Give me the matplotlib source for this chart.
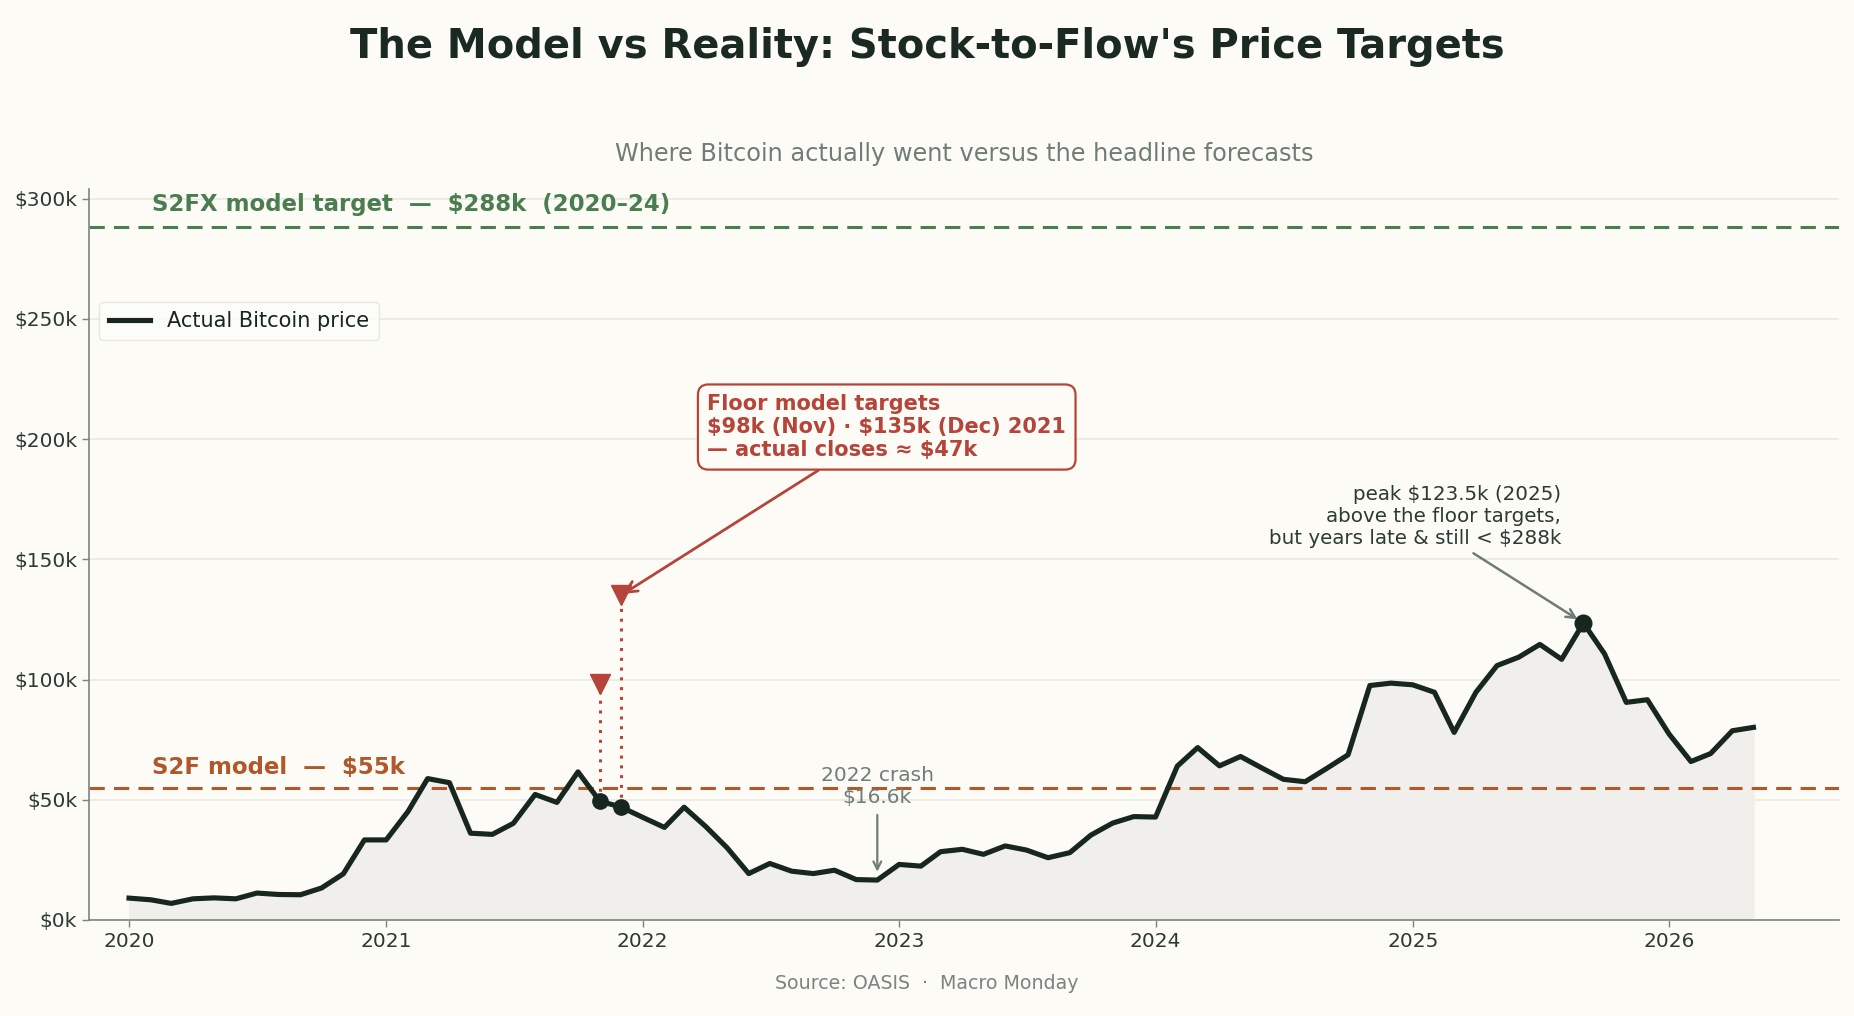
import matplotlib
matplotlib.use("Agg")
import matplotlib.pyplot as plt
import matplotlib.dates as mdates
import matplotlib.ticker as mticker
import pandas as pd

# ---------------- data ----------------
start_month = "2020-01-01"
price_k = [
    9.1, 8.4, 6.9, 8.8, 9.2, 8.8, 11.2, 10.6, 10.5, 13.3, 19.2, 33.3,      # 2020
    33.3, 45.1, 58.8, 57.1, 36.1, 35.6, 40.2, 52.2, 48.9, 61.6, 49.4, 47.0, # 2021
    42.7, 38.5, 46.9, 38.8, 30.1, 19.3, 23.5, 20.3, 19.3, 20.7, 16.8, 16.6, # 2022
    23.1, 22.4, 28.4, 29.4, 27.3, 30.8, 29.1, 25.9, 28.0, 35.3, 40.3, 43.0, # 2023
    42.8, 64.0, 71.7, 64.1, 68.0, 63.1, 58.5, 57.5, 63.1, 68.7, 97.5, 98.5, # 2024
    97.8, 94.7, 78.0, 94.7, 105.8, 109.3, 114.6, 108.4, 123.5, 110.7, 90.5, 91.6, # 2025
    77.3, 65.9, 69.2, 78.7, 80.1,                                           # 2026
]
dates = pd.date_range(start_month, periods=len(price_k), freq="MS")
prices = [p * 1000 for p in price_k]

s2fx_target = 288000
s2f_target = 55000
floor_months = ["2021-11-01", "2021-12-01"]
floor_targets = [98000, 135000]
peak_month = "2025-09-01"
peak_value = 123500
crash_month = "2022-12-01"
crash_value = 16600
year_ticks = [2020, 2021, 2022, 2023, 2024, 2025, 2026]
y_ticks = [0, 50000, 100000, 150000, 200000, 250000, 300000]

# ---------------- style ----------------
BG = "#fcfbf6"
DARK = "#17261f"
GREEN = "#4a7d50"
ORANGE = "#b0582a"
RED = "#b5443a"
GRAY = "#6f7d76"
FILL = "#f0efeb"

plt.rcParams["font.family"] = ["DejaVu Sans"]
plt.rcParams["text.parse_math"] = False

fig = plt.figure(figsize=(18.54, 10.16), dpi=100, facecolor=BG)
ax = fig.add_axes([0.048, 0.0945, 0.944, 0.7195], facecolor=BG)

price_series = pd.Series(prices, index=dates)

ax.fill_between(dates, prices, 0, color=FILL, zorder=1)
ax.plot(dates, prices, color=DARK, lw=3.7, zorder=4, label="Actual Bitcoin price")

# horizontal model lines
ax.axhline(s2fx_target, color=GREEN, ls=(0, (5, 3)), lw=2.2, zorder=2)
ax.axhline(s2f_target, color=ORANGE, ls=(0, (5, 3)), lw=2.2, zorder=2)
label_x = pd.Timestamp("2020-02-03")
ax.annotate(f"S2FX model target  \u2014  ${s2fx_target//1000}k  (2020\u201324)",
            xy=(label_x, s2fx_target), xytext=(0, 8), textcoords="offset points",
            ha="left", va="bottom", color=GREEN, fontsize=16.5, fontweight="bold")
ax.annotate(f"S2F model  \u2014  ${s2f_target//1000}k",
            xy=(label_x, s2f_target), xytext=(0, 6), textcoords="offset points",
            ha="left", va="bottom", color=ORANGE, fontsize=16.5, fontweight="bold")

# floor model targets
for m, t in zip(floor_months, floor_targets):
    d = pd.Timestamp(m)
    actual = price_series[d]
    ax.plot([d, d], [actual, t], color=RED, ls=(0, (1, 2.2)), lw=2.2, zorder=3)
    ax.plot([d], [t], marker="v", color=RED, markersize=15, zorder=6, ls="none")
    ax.plot([d], [actual], marker="o", color=DARK, markersize=11, zorder=6, ls="none")

ax.annotate("Floor model targets\n$98k (Nov) \u00b7 $135k (Dec) 2021\n\u2014 actual closes \u2248 $47k",
            xy=(pd.Timestamp(floor_months[1]), floor_targets[1]),
            xytext=(pd.Timestamp("2022-04-03"), 205000),
            ha="left", va="center", color=RED, fontsize=15, fontweight="bold",
            linespacing=1.2,
            bbox=dict(boxstyle="round,pad=0.45,rounding_size=0.5", fc=BG, ec=RED, lw=1.6),
            arrowprops=dict(arrowstyle="->", color=RED, lw=2.0, shrinkA=0, shrinkB=2,
                            mutation_scale=20),
            zorder=7)

# peak
pk = pd.Timestamp(peak_month)
ax.plot([pk], [peak_value], marker="o", color=DARK, markersize=12, zorder=6, ls="none")
ax.annotate("peak $123.5k (2025)\nabove the floor targets,\nbut years late & still < $288k",
            xy=(pk, peak_value), xytext=(pd.Timestamp("2025-07-31"), 168000),
            ha="right", va="center", color="#2b3a33", fontsize=14.3, linespacing=1.2,
            arrowprops=dict(arrowstyle="->", color=GRAY, lw=1.8, shrinkA=4, shrinkB=5,
                            mutation_scale=16),
            zorder=7)

# crash
cr = pd.Timestamp(crash_month)
ax.annotate(f"2022 crash\n${crash_value/1000:.1f}k",
            xy=(cr, crash_value), xytext=(cr, 55500),
            ha="center", va="center", color=GRAY, fontsize=14.5, linespacing=1.15,
            arrowprops=dict(arrowstyle="->", color=GRAY, lw=1.6, shrinkA=4, shrinkB=6,
                            mutation_scale=14),
            zorder=7)

# axes formatting
ax.set_xlim(pd.Timestamp("2019-11-05"), pd.Timestamp("2026-08-31"))
ax.set_ylim(0, 304000)
ax.set_xticks([pd.Timestamp(f"{y}-01-01") for y in year_ticks])
ax.xaxis.set_major_formatter(mdates.DateFormatter("%Y"))
ax.set_yticks(y_ticks)
ax.yaxis.set_major_formatter(mticker.FuncFormatter(lambda v, p: f"${int(v/1000)}k"))
ax.tick_params(axis="both", labelsize=14.5, colors="#7a857f", labelcolor="#2b3a33",
               length=5, width=1)
ax.grid(axis="y", color="#e9e8e3", lw=1.2, zorder=0)
ax.set_axisbelow(True)
for s in ["top", "right"]:
    ax.spines[s].set_visible(False)
for s in ["left", "bottom"]:
    ax.spines[s].set_color("#7a857f")
    ax.spines[s].set_linewidth(1.2)

leg = ax.legend(loc="upper left", bbox_to_anchor=(0, 0.86), fontsize=15,
                frameon=True, facecolor="#fdfdfb", edgecolor="#e2e1dc",
                handlelength=2.0, borderpad=0.45)
leg.get_frame().set_linewidth(1.0)
for t in leg.get_texts():
    t.set_color(DARK)

ax.set_title("Where Bitcoin actually went versus the headline forecasts",
             fontsize=17.3, color="#6f7d76", pad=20)
fig.suptitle("The Model vs Reality: Stock-to-Flow's Price Targets",
             fontsize=28.8, fontweight="bold", color="#1a2a22", y=0.954, va="center")
fig.text(0.5, 0.032, "Source: OASIS  \u00b7  Macro Monday", ha="center", va="center",
         fontsize=13.7, color="#7a857f")

fig.savefig("out.png", dpi=100, facecolor=BG)
